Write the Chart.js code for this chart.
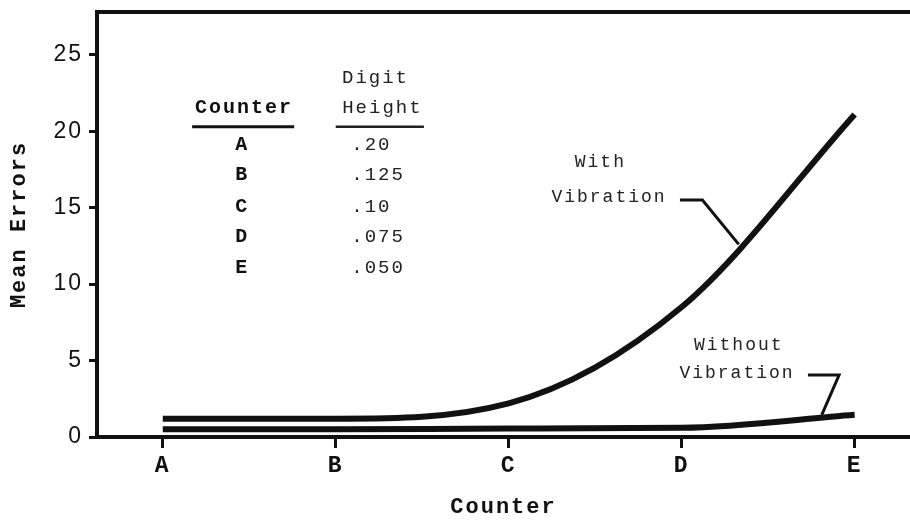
<!DOCTYPE html>
<html>
<head>
<meta charset="utf-8">
<title>Mean Errors by Counter</title>
<script src="https://cdn.jsdelivr.net/npm/chart.js@4.4.1/dist/chart.umd.min.js"></script>
<style>
    html, body { margin: 0; padding: 0; background: #fff; }
    #wrap { width: 910px; height: 521px; }
</style>
</head>
<body>
<div id="wrap"><canvas id="chart" width="910" height="521"></canvas></div>
<script>
// Chart data
const counters = ['A', 'B', 'C', 'D', 'E'];
const digitHeights = ['.20', '.125', '.10', '.075', '.050'];
const withVibration = [1.2, 1.2, 2.2, 8.5, 21.1];
const withoutVibration = [0.5, 0.5, 0.55, 0.6, 1.45];
const yTicks = [0, 5, 10, 15, 20, 25];

const INK = '#111';
const MONO = '"Liberation Mono", "DejaVu Sans Mono", monospace';

/**
 * Turn a series into {x, y} points on the linear counter axis
 */
function toPoints(values) {
    return values.map((v, i) => ({ x: i, y: v }));
}

/**
 * Draw text with typewriter-like spacing
 */
function typeText(ctx, text, x, y, font, align, color) {
    ctx.font = font;
    ctx.fillStyle = color || INK;
    ctx.textAlign = align || 'center';
    ctx.textBaseline = 'middle';
    ctx.letterSpacing = '2px';
    ctx.fillText(text, x, y);
}

// Frame, inset table and curve labels (positions in data units)
const annotationPlugin = {
    id: 'annotations',
    beforeDraw(chart) {
        chart.ctx.letterSpacing = '2px';
    },
    afterDraw(chart) {
        const { ctx, chartArea, scales: { x, y } } = chart;
        const px = v => x.getPixelForValue(v);
        const py = v => y.getPixelForValue(v);

        ctx.save();
        ctx.strokeStyle = INK;
        ctx.lineCap = 'butt';

        // top frame line
        ctx.lineWidth = 4;
        ctx.beginPath();
        ctx.moveTo(chartArea.left - 2, chartArea.top);
        ctx.lineTo(chartArea.right, chartArea.top);
        ctx.stroke();

        // inset table
        const headFont = 'bold 20px ' + MONO;
        const rowFont = 'bold 20px ' + MONO;
        const valFont = '19px ' + MONO;
        const grey = '#222';
        typeText(ctx, 'Digit', px(1.23), py(23.5), valFont, 'center', grey);
        typeText(ctx, 'Counter', px(0.47), py(21.5), headFont);
        typeText(ctx, 'Height', px(1.27), py(21.5), valFont, 'center', grey);

        ctx.lineWidth = 3;
        ctx.beginPath();
        ctx.moveTo(px(0.17), py(20.3));
        ctx.lineTo(px(0.76), py(20.3));
        ctx.stroke();
        ctx.lineWidth = 2.5;
        ctx.strokeStyle = grey;
        ctx.beginPath();
        ctx.moveTo(px(1.0), py(20.3));
        ctx.lineTo(px(1.51), py(20.3));
        ctx.stroke();

        const rowY = [19.1, 17.15, 15.05, 13.1, 11.05];
        counters.forEach((c, i) => {
            typeText(ctx, c, px(0.46), py(rowY[i]), rowFont);
            typeText(ctx, digitHeights[i], px(1.09), py(rowY[i]), valFont, 'left', grey);
        });

        // "With Vibration" label and leader
        const labelFont = '18px ' + MONO;
        typeText(ctx, 'With', px(2.53), py(18.0), labelFont, 'center', grey);
        typeText(ctx, 'Vibration', px(2.58), py(15.7), labelFont, 'center', grey);
        ctx.strokeStyle = INK;
        ctx.lineWidth = 3;
        ctx.beginPath();
        ctx.moveTo(px(2.99), py(15.5));
        ctx.lineTo(px(3.12), py(15.5));
        ctx.lineTo(px(3.33), py(12.6));
        ctx.stroke();

        // "Without Vibration" label and leader
        typeText(ctx, 'Without', px(3.33), py(6.0), labelFont, 'center', grey);
        typeText(ctx, 'Vibration', px(3.32), py(4.2), labelFont, 'center', grey);
        ctx.beginPath();
        ctx.moveTo(px(3.73), py(4.05));
        ctx.lineTo(px(3.91), py(4.05));
        ctx.lineTo(px(3.81), py(1.45));
        ctx.stroke();

        ctx.restore();
    }
};

function initChart() {
    const ctx = document.getElementById('chart');

    const lineStyle = {
        borderColor: INK,
        borderWidth: 6,
        pointRadius: 0,
        fill: false,
        cubicInterpolationMode: 'monotone',
        borderCapStyle: 'butt'
    };

    new Chart(ctx, {
        type: 'line',
        data: {
            datasets: [
                Object.assign({ label: 'With Vibration', data: toPoints(withVibration) }, lineStyle),
                Object.assign({ label: 'Without Vibration', data: toPoints(withoutVibration) }, lineStyle)
            ]
        },
        options: {
            responsive: false,
            animation: false,
            devicePixelRatio: 1,
            layout: { padding: { top: 12, right: 0, bottom: 0, left: 0 } },
            plugins: {
                legend: { display: false },
                tooltip: { enabled: false }
            },
            scales: {
                x: {
                    type: 'linear',
                    min: -0.38,
                    max: 4.32,
                    afterBuildTicks: scale => {
                        scale.ticks = counters.map((c, i) => ({ value: i }));
                    },
                    afterFit: scale => {
                        scale.height = 84;
                        scale.paddingLeft = 0;
                        scale.paddingRight = 0;
                    },
                    ticks: {
                        color: INK,
                        font: { family: MONO, size: 23, weight: 'bold' },
                        padding: 4,
                        maxRotation: 0,
                        callback: value => counters[value]
                    },
                    grid: {
                        drawOnChartArea: false,
                        drawTicks: true,
                        tickLength: 11,
                        tickWidth: 3,
                        color: INK
                    },
                    border: { display: true, color: INK, width: 4 },
                    title: {
                        display: true,
                        text: 'Counter',
                        color: INK,
                        font: { family: MONO, size: 22, weight: 'bold' },
                        padding: { top: 0, bottom: 0 }
                    }
                },
                y: {
                    min: 0,
                    max: 27.8,
                    afterBuildTicks: scale => {
                        scale.ticks = yTicks.map(v => ({ value: v }));
                    },
                    afterFit: scale => {
                        scale.width = 97;
                        scale.paddingTop = 0;
                        scale.paddingBottom = 0;
                    },
                    ticks: {
                        color: INK,
                        font: { family: '"Liberation Sans", Arial, sans-serif', size: 23 },
                        padding: 6
                    },
                    grid: {
                        drawOnChartArea: false,
                        drawTicks: true,
                        tickLength: 8,
                        tickWidth: 3,
                        color: INK
                    },
                    border: { display: true, color: INK, width: 4 },
                    title: {
                        display: true,
                        text: 'Mean Errors',
                        color: INK,
                        font: { family: MONO, size: 22, weight: 'bold' },
                        padding: { top: 6, bottom: 0 }
                    }
                }
            }
        },
        plugins: [annotationPlugin]
    });
}

initChart();
</script>
</body>
</html>
